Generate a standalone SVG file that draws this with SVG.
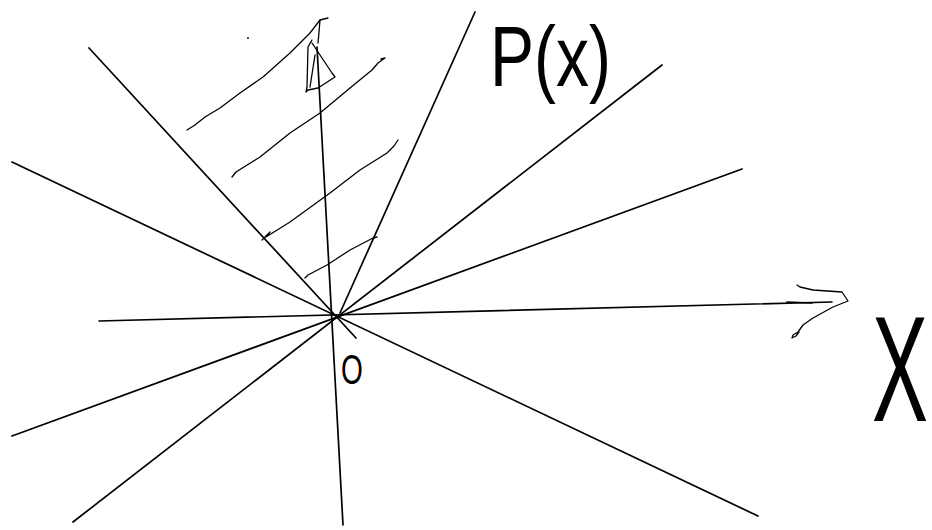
<svg xmlns="http://www.w3.org/2000/svg" width="932" height="530" viewBox="0 0 932 530">
<style>
.ln{stroke:#000;stroke-width:1.7;fill:none;stroke-linecap:round}
.hs{stroke:#000;stroke-width:1.3;fill:none;stroke-linecap:round;stroke-linejoin:round}
.lb{font-family:"Liberation Sans",Arial,sans-serif;fill:#000}
</style>
<rect width="932" height="530" fill="#fff"/>
<g id="rays">
<line class="ln" x1="89" y1="48" x2="356" y2="338"/>
<line class="ln" x1="12" y1="162" x2="758" y2="516"/>
<line class="ln" x1="99" y1="321" x2="832" y2="302"/>
<line class="ln" x1="73" y1="522" x2="662" y2="65"/>
<line class="ln" x1="12" y1="436" x2="742" y2="169"/>
<line class="ln" x1="475" y1="12" x2="340" y2="313"/>
<line class="ln" x1="317" y1="47" x2="343" y2="525"/>
</g>
<g id="y-arrow">
<path class="hs" d="M320 20 L319 32 L318 43 M312 40 L308 47 L307 87 L306 92 L308 90 L318 88 L335 77 L332 73 L318 52 L312 43 M315 55 L310 87"/>
</g>
<g id="x-arrow">
<path class="hs" d="M797 285 L800 287 L813 290 L842 292 L848 301 L833 307 L813 318 L803 325 L798 332 L793 335 L792 338 L796 336 L799 332"/>
<line class="ln" x1="787" y1="302" x2="812" y2="303" stroke-width="2"/>
</g>
<g id="hatching">
<path class="hs" d="M187 130 L195 125 L205 117 L220 108 L240 93 L263 77 L290 53 L310 33 L320 20 L328 18"/>
<path class="hs" d="M232 177 L236 172 L260 157 L290 133 L320 113 L350 88 L372 70 L378 63 L385 58 L381 59"/>
<path class="hs" d="M262 240 L270 232 L266 237 L290 222 L330 193 L360 170 L387 153 L394 146 L398 140"/>
<path class="hs" d="M305 278 L308 275 L327 265 L350 250 L373 238 L377 237"/>
<circle cx="248" cy="38" r="0.9" fill="#000"/>
</g>
<g id="labels">
<text class="lb" transform="translate(490 86) scale(1 1.3)" font-size="66">P(x)</text>
<text class="lb" transform="translate(872 421) scale(1 1.8)" font-size="84">X</text>
<text class="lb" transform="translate(341 384) scale(0.85 1.3)" font-size="33">O</text>
</g>
</svg>
